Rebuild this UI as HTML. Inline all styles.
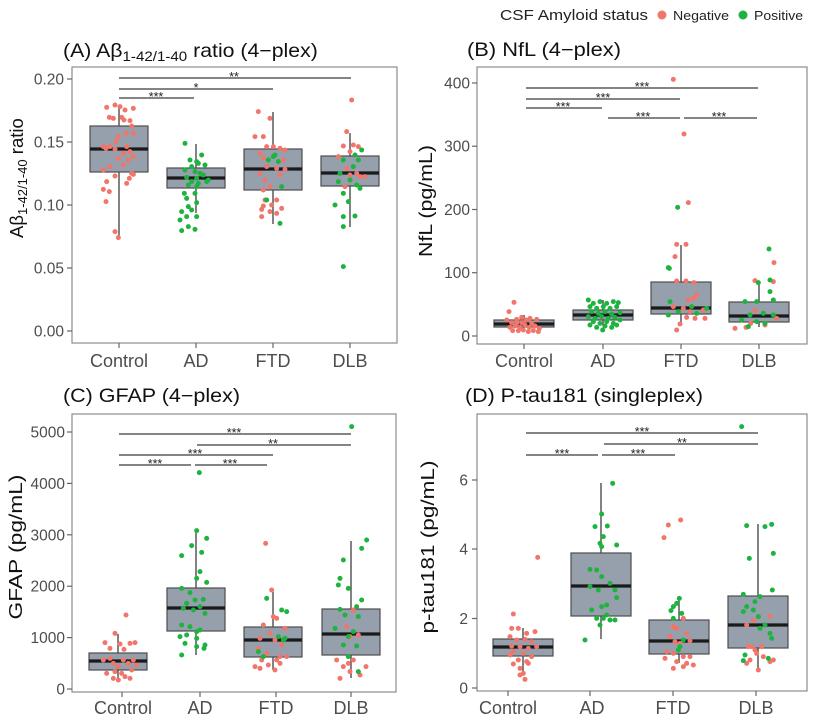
<!DOCTYPE html>
<html><head><meta charset="utf-8"><style>
html,body{margin:0;padding:0;background:#fff;}
svg{display:block;}
text{font-family:"Liberation Sans",Arial,sans-serif;}
.r{fill:#F1756B;}
.g{fill:#1DB33F;}
.bx{fill:#96a0ad;stroke:#4d4d4d;stroke-width:1.2;}
.md{stroke:#1a1a1a;stroke-width:3.2;}
.wk{stroke:#4d4d4d;stroke-width:1.4;}
.fr{fill:none;stroke:#8c8c8c;stroke-width:1.2;}
.tk{stroke:#666;stroke-width:1.2;}
.yl{font-size:15.5px;fill:#4d4d4d;text-anchor:end;}
.xl{font-size:18px;fill:#4d4d4d;text-anchor:middle;}
.sg{stroke:#3a3a3a;stroke-width:1.2;}
.st{font-size:12.5px;fill:#222;text-anchor:middle;}
.ti{font-size:19px;fill:#111;}
.at{font-size:18.5px;fill:#111;}
</style></head><body>
<svg width="829" height="726" viewBox="0 0 829 726" xmlns="http://www.w3.org/2000/svg">
<rect width="829" height="726" fill="#fff"/>

<!-- Legend -->
<text x="500" y="20" font-size="15" fill="#222" textLength="148" lengthAdjust="spacingAndGlyphs">CSF Amyloid status</text>
<circle cx="662" cy="15" r="4.5" class="r"/>
<text x="673" y="20" font-size="13" fill="#222" textLength="56" lengthAdjust="spacingAndGlyphs">Negative</text>
<circle cx="743" cy="15" r="4.5" class="g"/>
<text x="754" y="20" font-size="13" fill="#222" textLength="49" lengthAdjust="spacingAndGlyphs">Positive</text>

<!-- ================= Panel A ================= -->
<g transform="translate(63,57) scale(1.12,1)"><text x="0" y="0" class="ti">(A) Aβ<tspan font-size="13.5" dy="4">1-42/1-40</tspan><tspan dy="-4"> ratio (4−plex)</tspan></text></g>
<g transform="translate(23,238) rotate(-90)"><text x="0" y="0" class="at">Aβ<tspan font-size="13" dy="4">1-42/1-40</tspan><tspan dy="-4"> ratio</tspan></text></g>
<rect x="72" y="67" width="325" height="276" class="fr"/>
<g class="tk">
<line x1="67" y1="331" x2="72" y2="331"/><line x1="67" y1="268" x2="72" y2="268"/><line x1="67" y1="205" x2="72" y2="205"/><line x1="67" y1="142" x2="72" y2="142"/><line x1="67" y1="79" x2="72" y2="79"/>
<line x1="119" y1="343" x2="119" y2="348"/><line x1="196" y1="343" x2="196" y2="348"/><line x1="273" y1="343" x2="273" y2="348"/><line x1="350" y1="343" x2="350" y2="348"/>
</g>
<text x="64" y="336.5" class="yl">0.00</text><text x="64" y="273.5" class="yl">0.05</text><text x="64" y="210.5" class="yl">0.10</text><text x="64" y="147.5" class="yl">0.15</text><text x="64" y="84.5" class="yl">0.20</text>
<text x="119" y="367" class="xl">Control</text><text x="196" y="367" class="xl">AD</text><text x="273" y="367" class="xl">FTD</text><text x="350" y="367" class="xl">DLB</text>
<g class="wk">
<line x1="119" y1="105" x2="119" y2="238"/><line x1="196" y1="144" x2="196" y2="213"/><line x1="273" y1="112" x2="273" y2="224"/><line x1="350" y1="133" x2="350" y2="227"/>
</g>
<rect x="90" y="126" width="58" height="46" class="bx"/><line x1="90" y1="149" x2="148" y2="149" class="md"/>
<rect x="167" y="168" width="58" height="20" class="bx"/><line x1="167" y1="178" x2="225" y2="178" class="md"/>
<rect x="244" y="149" width="58" height="41" class="bx"/><line x1="244" y1="169" x2="302" y2="169" class="md"/>
<rect x="321" y="156" width="58" height="30" class="bx"/><line x1="321" y1="173" x2="379" y2="173" class="md"/>
<line x1="119" y1="78" x2="351" y2="78" class="sg"/><text x="234" y="81" class="st">**</text>
<line x1="119" y1="89" x2="273" y2="89" class="sg"/><text x="196" y="92" class="st">*</text>
<line x1="119" y1="98" x2="194" y2="98" class="sg"/><text x="156" y="101" class="st">***</text>
<g transform="scale(0.33333)">
<g class="r">
<circle cx="320" cy="322" r="7.5"/><circle cx="345" cy="315" r="7.5"/><circle cx="360" cy="320" r="7.5"/><circle cx="375" cy="330" r="7.5"/><circle cx="400" cy="325" r="7.5"/><circle cx="328" cy="352" r="7.5"/><circle cx="340" cy="355" r="7.5"/><circle cx="365" cy="352" r="7.5"/><circle cx="372" cy="360" r="7.5"/><circle cx="390" cy="362" r="7.5"/><circle cx="395" cy="378" r="7.5"/><circle cx="400" cy="400" r="7.5"/><circle cx="378" cy="400" r="7.5"/><circle cx="355" cy="410" r="7.5"/><circle cx="348" cy="425" r="7.5"/><circle cx="310" cy="440" r="7.5"/><circle cx="318" cy="445" r="7.5"/><circle cx="330" cy="440" r="7.5"/><circle cx="345" cy="447" r="7.5"/><circle cx="380" cy="440" r="7.5"/><circle cx="370" cy="460" r="7.5"/><circle cx="390" cy="455" r="7.5"/><circle cx="400" cy="470" r="7.5"/><circle cx="355" cy="475" r="7.5"/><circle cx="385" cy="480" r="7.5"/><circle cx="330" cy="500" r="7.5"/><circle cx="310" cy="510" r="7.5"/><circle cx="370" cy="495" r="7.5"/><circle cx="395" cy="520" r="7.5"/><circle cx="400" cy="523" r="7.5"/><circle cx="388" cy="535" r="7.5"/><circle cx="345" cy="528" r="7.5"/><circle cx="320" cy="545" r="7.5"/><circle cx="380" cy="550" r="7.5"/><circle cx="310" cy="568" r="7.5"/><circle cx="328" cy="575" r="7.5"/><circle cx="318" cy="605" r="7.5"/><circle cx="345" cy="695" r="7.5"/><circle cx="355" cy="713" r="7.5"/>
<circle cx="775" cy="335" r="7.5"/><circle cx="810" cy="355" r="7.5"/><circle cx="790" cy="410" r="7.5"/><circle cx="765" cy="410" r="7.5"/><circle cx="800" cy="440" r="7.5"/><circle cx="820" cy="440" r="7.5"/><circle cx="840" cy="445" r="7.5"/><circle cx="855" cy="450" r="7.5"/><circle cx="780" cy="460" r="7.5"/><circle cx="790" cy="475" r="7.5"/><circle cx="850" cy="480" r="7.5"/><circle cx="800" cy="500" r="7.5"/><circle cx="830" cy="505" r="7.5"/><circle cx="855" cy="508" r="7.5"/><circle cx="780" cy="520" r="7.5"/><circle cx="795" cy="540" r="7.5"/><circle cx="840" cy="525" r="7.5"/><circle cx="810" cy="560" r="7.5"/><circle cx="790" cy="570" r="7.5"/><circle cx="795" cy="600" r="7.5"/><circle cx="830" cy="600" r="7.5"/><circle cx="815" cy="615" r="7.5"/><circle cx="790" cy="618" r="7.5"/><circle cx="785" cy="628" r="7.5"/><circle cx="845" cy="625" r="7.5"/><circle cx="830" cy="640" r="7.5"/><circle cx="785" cy="650" r="7.5"/><circle cx="810" cy="635" r="7.5"/>
<circle cx="1055" cy="300" r="7.5"/><circle cx="1040" cy="395" r="7.5"/><circle cx="1030" cy="438" r="7.5"/><circle cx="1015" cy="470" r="7.5"/><circle cx="1060" cy="435" r="7.5"/><circle cx="1075" cy="440" r="7.5"/><circle cx="1050" cy="455" r="7.5"/><circle cx="1040" cy="505" r="7.5"/><circle cx="1070" cy="520" r="7.5"/><circle cx="1050" cy="525" r="7.5"/><circle cx="1080" cy="530" r="7.5"/><circle cx="1095" cy="530" r="7.5"/><circle cx="1035" cy="560" r="7.5"/>
</g>
<g class="g">
<circle cx="555" cy="430" r="7.5"/><circle cx="605" cy="465" r="7.5"/><circle cx="570" cy="480" r="7.5"/><circle cx="590" cy="485" r="7.5"/><circle cx="595" cy="490" r="7.5"/><circle cx="615" cy="495" r="7.5"/><circle cx="575" cy="500" r="7.5"/><circle cx="555" cy="510" r="7.5"/><circle cx="585" cy="515" r="7.5"/><circle cx="600" cy="520" r="7.5"/><circle cx="610" cy="525" r="7.5"/><circle cx="625" cy="540" r="7.5"/><circle cx="560" cy="532" r="7.5"/><circle cx="575" cy="545" r="7.5"/><circle cx="590" cy="535" r="7.5"/><circle cx="620" cy="545" r="7.5"/><circle cx="595" cy="550" r="7.5"/><circle cx="565" cy="555" r="7.5"/><circle cx="590" cy="560" r="7.5"/><circle cx="553" cy="580" r="7.5"/><circle cx="585" cy="580" r="7.5"/><circle cx="560" cy="595" r="7.5"/><circle cx="590" cy="608" r="7.5"/><circle cx="565" cy="620" r="7.5"/><circle cx="545" cy="635" r="7.5"/><circle cx="575" cy="630" r="7.5"/><circle cx="560" cy="650" r="7.5"/><circle cx="540" cy="660" r="7.5"/><circle cx="590" cy="650" r="7.5"/><circle cx="565" cy="680" r="7.5"/><circle cx="545" cy="692" r="7.5"/><circle cx="585" cy="688" r="7.5"/>
<circle cx="825" cy="465" r="7.5"/><circle cx="835" cy="485" r="7.5"/><circle cx="805" cy="480" r="7.5"/><circle cx="800" cy="600" r="7.5"/><circle cx="845" cy="560" r="7.5"/><circle cx="840" cy="670" r="7.5"/><circle cx="820" cy="470" r="7.5"/>
<circle cx="1030" cy="480" r="7.5"/><circle cx="1065" cy="465" r="7.5"/><circle cx="1085" cy="450" r="7.5"/><circle cx="1075" cy="480" r="7.5"/><circle cx="1060" cy="500" r="7.5"/><circle cx="1020" cy="520" r="7.5"/><circle cx="1015" cy="545" r="7.5"/><circle cx="1050" cy="540" r="7.5"/><circle cx="1070" cy="555" r="7.5"/><circle cx="1080" cy="565" r="7.5"/><circle cx="1030" cy="580" r="7.5"/><circle cx="1005" cy="615" r="7.5"/><circle cx="1045" cy="605" r="7.5"/><circle cx="1030" cy="650" r="7.5"/><circle cx="1065" cy="648" r="7.5"/><circle cx="1030" cy="680" r="7.5"/><circle cx="1030" cy="800" r="7.5"/>
</g>
</g>

<!-- ================= Panel B ================= -->
<text x="467" y="56" class="ti" textLength="154" lengthAdjust="spacingAndGlyphs">(B) NfL (4−plex)</text>
<text transform="translate(432,201) rotate(-90)" x="0" y="0" class="at" text-anchor="middle" textLength="112" lengthAdjust="spacingAndGlyphs">NfL (pg/mL)</text>
<rect x="477" y="67" width="330" height="277" class="fr"/>
<g class="tk">
<line x1="472" y1="336" x2="477" y2="336"/><line x1="472" y1="272.7" x2="477" y2="272.7"/><line x1="472" y1="209.5" x2="477" y2="209.5"/><line x1="472" y1="146.2" x2="477" y2="146.2"/><line x1="472" y1="83" x2="477" y2="83"/>
<line x1="524" y1="344" x2="524" y2="349"/><line x1="603" y1="344" x2="603" y2="349"/><line x1="681" y1="344" x2="681" y2="349"/><line x1="759" y1="344" x2="759" y2="349"/>
</g>
<text x="470" y="341.5" class="yl">0</text><text x="470" y="278" class="yl">100</text><text x="470" y="215" class="yl">200</text><text x="470" y="151.5" class="yl">300</text><text x="470" y="88.5" class="yl">400</text>
<text x="524" y="367" class="xl">Control</text><text x="603" y="367" class="xl">AD</text><text x="681" y="367" class="xl">FTD</text><text x="759" y="367" class="xl">DLB</text>
<g class="wk">
<line x1="524" y1="315" x2="524" y2="332"/><line x1="603" y1="300" x2="603" y2="326"/><line x1="681" y1="245" x2="681" y2="325"/><line x1="759" y1="282" x2="759" y2="327"/>
</g>
<rect x="494" y="320" width="60" height="7" class="bx"/><line x1="494" y1="324" x2="554" y2="324" class="md"/>
<rect x="573" y="310" width="60" height="10" class="bx"/><line x1="573" y1="315" x2="633" y2="315" class="md"/>
<rect x="651" y="282" width="60" height="32" class="bx"/><line x1="651" y1="308" x2="711" y2="308" class="md"/>
<rect x="729" y="302" width="60" height="20" class="bx"/><line x1="729" y1="316" x2="789" y2="316" class="md"/>
<line x1="526" y1="88" x2="758" y2="88" class="sg"/><text x="642" y="91" class="st">***</text>
<line x1="526" y1="99" x2="680" y2="99" class="sg"/><text x="603" y="102" class="st">***</text>
<line x1="526" y1="108" x2="602" y2="108" class="sg"/><text x="563" y="111" class="st">***</text>
<line x1="608" y1="118" x2="680" y2="118" class="sg"/><text x="643" y="121" class="st">***</text>
<line x1="684" y1="118" x2="757" y2="118" class="sg"/><text x="719" y="121" class="st">***</text>
<g transform="translate(410,0) scale(0.33333)">
<g class="r"><circle cx="790" cy="238" r="7.5"/><circle cx="822" cy="402" r="7.5"/><circle cx="835" cy="608" r="7.5"/><circle cx="800" cy="733" r="7.5"/><circle cx="828" cy="733" r="7.5"/><circle cx="795" cy="770" r="7.5"/><circle cx="800" cy="843" r="7.5"/><circle cx="828" cy="843" r="7.5"/><circle cx="852" cy="848" r="7.5"/></g>
<g class="g"><circle cx="803" cy="622" r="7.5"/><circle cx="775" cy="803" r="7.5"/></g>
</g>
<g transform="translate(440,240) scale(0.33333)">
<g class="r">
<circle cx="222" cy="187" r="7.5"/><circle cx="207" cy="215" r="7.5"/><circle cx="200" cy="240" r="7.5"/><circle cx="215" cy="248" r="7.5"/><circle cx="230" cy="238" r="7.5"/><circle cx="245" cy="232" r="7.5"/><circle cx="258" cy="240" r="7.5"/><circle cx="270" cy="235" r="7.5"/><circle cx="290" cy="238" r="7.5"/><circle cx="210" cy="262" r="7.5"/><circle cx="225" cy="258" r="7.5"/><circle cx="240" cy="262" r="7.5"/><circle cx="255" cy="255" r="7.5"/><circle cx="268" cy="262" r="7.5"/><circle cx="285" cy="258" r="7.5"/><circle cx="298" cy="265" r="7.5"/><circle cx="218" cy="272" r="7.5"/><circle cx="235" cy="272" r="7.5"/><circle cx="250" cy="270" r="7.5"/><circle cx="265" cy="275" r="7.5"/><circle cx="280" cy="272" r="7.5"/><circle cx="295" cy="275" r="7.5"/><circle cx="245" cy="248" r="7.5"/><circle cx="275" cy="250" r="7.5"/><circle cx="230" cy="250" r="7.5"/>
<circle cx="720" cy="252" r="7.5"/><circle cx="740" cy="232" r="7.5"/><circle cx="765" cy="235" r="7.5"/><circle cx="700" cy="200" r="7.5"/><circle cx="730" cy="205" r="7.5"/><circle cx="760" cy="175" r="7.5"/><circle cx="745" cy="180" r="7.5"/><circle cx="770" cy="165" r="7.5"/><circle cx="790" cy="210" r="7.5"/><circle cx="795" cy="235" r="7.5"/><circle cx="710" cy="270" r="7.5"/><circle cx="750" cy="215" r="7.5"/>
<circle cx="1002" cy="68" r="7.5"/><circle cx="945" cy="122" r="7.5"/><circle cx="1000" cy="125" r="7.5"/><circle cx="918" cy="262" r="7.5"/><circle cx="932" cy="250" r="7.5"/><circle cx="975" cy="255" r="7.5"/><circle cx="945" cy="212" r="7.5"/><circle cx="885" cy="265" r="7.5"/><circle cx="1010" cy="235" r="7.5"/>
</g>
<g class="g">
<circle cx="445" cy="180" r="7.5"/><circle cx="460" cy="190" r="7.5"/><circle cx="480" cy="185" r="7.5"/><circle cx="500" cy="190" r="7.5"/><circle cx="520" cy="185" r="7.5"/><circle cx="535" cy="188" r="7.5"/><circle cx="450" cy="200" r="7.5"/><circle cx="470" cy="205" r="7.5"/><circle cx="490" cy="200" r="7.5"/><circle cx="510" cy="205" r="7.5"/><circle cx="530" cy="200" r="7.5"/><circle cx="455" cy="215" r="7.5"/><circle cx="475" cy="220" r="7.5"/><circle cx="495" cy="215" r="7.5"/><circle cx="515" cy="222" r="7.5"/><circle cx="540" cy="218" r="7.5"/><circle cx="445" cy="230" r="7.5"/><circle cx="465" cy="235" r="7.5"/><circle cx="485" cy="230" r="7.5"/><circle cx="505" cy="235" r="7.5"/><circle cx="525" cy="232" r="7.5"/><circle cx="460" cy="245" r="7.5"/><circle cx="480" cy="250" r="7.5"/><circle cx="500" cy="245" r="7.5"/><circle cx="520" cy="250" r="7.5"/><circle cx="540" cy="240" r="7.5"/><circle cx="470" cy="262" r="7.5"/><circle cx="495" cy="258" r="7.5"/><circle cx="515" cy="262" r="7.5"/><circle cx="450" cy="255" r="7.5"/><circle cx="530" cy="255" r="7.5"/><circle cx="488" cy="270" r="7.5"/>
<circle cx="688" cy="85" r="7.5"/><circle cx="690" cy="185" r="7.5"/><circle cx="685" cy="225" r="7.5"/><circle cx="715" cy="215" r="7.5"/><circle cx="800" cy="205" r="7.5"/><circle cx="770" cy="220" r="7.5"/><circle cx="755" cy="200" r="7.5"/>
<circle cx="987" cy="27" r="7.5"/><circle cx="990" cy="120" r="7.5"/><circle cx="955" cy="128" r="7.5"/><circle cx="990" cy="155" r="7.5"/><circle cx="915" cy="185" r="7.5"/><circle cx="1000" cy="180" r="7.5"/><circle cx="950" cy="185" r="7.5"/><circle cx="930" cy="225" r="7.5"/><circle cx="970" cy="220" r="7.5"/><circle cx="1000" cy="225" r="7.5"/><circle cx="905" cy="240" r="7.5"/><circle cx="950" cy="245" r="7.5"/><circle cx="925" cy="260" r="7.5"/><circle cx="975" cy="250" r="7.5"/>
</g>
</g>

<!-- ================= Panel C ================= -->
<text x="63" y="402" class="ti" textLength="177" lengthAdjust="spacingAndGlyphs">(C) GFAP (4−plex)</text>
<text transform="translate(22,547) rotate(-90)" x="0" y="0" class="at" text-anchor="middle" textLength="145" lengthAdjust="spacingAndGlyphs">GFAP (pg/mL)</text>
<rect x="72" y="414" width="324" height="278" class="fr"/>
<g class="tk">
<line x1="67" y1="689" x2="72" y2="689"/><line x1="67" y1="637.6" x2="72" y2="637.6"/><line x1="67" y1="586.2" x2="72" y2="586.2"/><line x1="67" y1="534.8" x2="72" y2="534.8"/><line x1="67" y1="483.4" x2="72" y2="483.4"/><line x1="67" y1="432" x2="72" y2="432"/>
<line x1="122" y1="692" x2="122" y2="697"/><line x1="200" y1="692" x2="200" y2="697"/><line x1="276" y1="692" x2="276" y2="697"/><line x1="351" y1="692" x2="351" y2="697"/>
</g>
<text x="65" y="694.5" class="yl">0</text><text x="65" y="643" class="yl">1000</text><text x="65" y="591.7" class="yl">2000</text><text x="65" y="540.3" class="yl">3000</text><text x="65" y="489" class="yl">4000</text><text x="65" y="437.5" class="yl">5000</text>
<text x="123" y="714" class="xl">Control</text><text x="200" y="714" class="xl">AD</text><text x="276" y="714" class="xl">FTD</text><text x="351" y="714" class="xl">DLB</text>
<g class="wk">
<line x1="118" y1="634" x2="118" y2="678"/><line x1="196" y1="532" x2="196" y2="655"/><line x1="273" y1="592" x2="273" y2="670"/><line x1="351" y1="541" x2="351" y2="678"/>
</g>
<rect x="89" y="653" width="58" height="17" class="bx"/><line x1="89" y1="661" x2="147" y2="661" class="md"/>
<rect x="167" y="588" width="58" height="43" class="bx"/><line x1="167" y1="608" x2="225" y2="608" class="md"/>
<rect x="244" y="627" width="58" height="30" class="bx"/><line x1="244" y1="640" x2="302" y2="640" class="md"/>
<rect x="322" y="609" width="58" height="46" class="bx"/><line x1="322" y1="634" x2="380" y2="634" class="md"/>
<line x1="119" y1="434" x2="351" y2="434" class="sg"/><text x="234" y="437" class="st">***</text>
<line x1="197" y1="445" x2="351" y2="445" class="sg"/><text x="273" y="448" class="st">**</text>
<line x1="119" y1="455" x2="273" y2="455" class="sg"/><text x="195" y="458" class="st">***</text>
<line x1="119" y1="465" x2="191" y2="465" class="sg"/><text x="155" y="468" class="st">***</text>
<line x1="195" y1="465" x2="267" y2="465" class="sg"/><text x="230" y="468" class="st">***</text>
<g transform="translate(0,370) scale(0.33333)">
<g class="r">
<circle cx="378" cy="735" r="7.5"/><circle cx="345" cy="790" r="7.5"/><circle cx="315" cy="818" r="7.5"/><circle cx="330" cy="835" r="7.5"/><circle cx="360" cy="822" r="7.5"/><circle cx="372" cy="838" r="7.5"/><circle cx="405" cy="818" r="7.5"/><circle cx="390" cy="820" r="7.5"/><circle cx="310" cy="870" r="7.5"/><circle cx="340" cy="880" r="7.5"/><circle cx="355" cy="890" r="7.5"/><circle cx="385" cy="880" r="7.5"/><circle cx="400" cy="870" r="7.5"/><circle cx="345" cy="905" r="7.5"/><circle cx="365" cy="910" r="7.5"/><circle cx="395" cy="900" r="7.5"/><circle cx="320" cy="910" r="7.5"/><circle cx="340" cy="925" r="7.5"/><circle cx="375" cy="920" r="7.5"/><circle cx="355" cy="930" r="7.5"/><circle cx="390" cy="925" r="7.5"/><circle cx="330" cy="865" r="7.5"/><circle cx="370" cy="870" r="7.5"/><circle cx="410" cy="885" r="7.5"/>
<circle cx="797" cy="520" r="7.5"/><circle cx="815" cy="660" r="7.5"/><circle cx="820" cy="740" r="7.5"/><circle cx="830" cy="745" r="7.5"/><circle cx="790" cy="765" r="7.5"/><circle cx="855" cy="775" r="7.5"/><circle cx="810" cy="790" r="7.5"/><circle cx="780" cy="805" r="7.5"/><circle cx="825" cy="810" r="7.5"/><circle cx="845" cy="825" r="7.5"/><circle cx="775" cy="835" r="7.5"/><circle cx="800" cy="850" r="7.5"/><circle cx="840" cy="860" r="7.5"/><circle cx="860" cy="860" r="7.5"/><circle cx="785" cy="870" r="7.5"/><circle cx="830" cy="870" r="7.5"/><circle cx="805" cy="885" r="7.5"/><circle cx="765" cy="890" r="7.5"/><circle cx="780" cy="895" r="7.5"/><circle cx="825" cy="900" r="7.5"/><circle cx="840" cy="880" r="7.5"/>
<circle cx="1060" cy="720" r="7.5"/><circle cx="1040" cy="770" r="7.5"/><circle cx="1050" cy="800" r="7.5"/><circle cx="1075" cy="795" r="7.5"/><circle cx="1010" cy="870" r="7.5"/><circle cx="1045" cy="880" r="7.5"/><circle cx="1060" cy="870" r="7.5"/><circle cx="1030" cy="890" r="7.5"/><circle cx="1050" cy="905" r="7.5"/><circle cx="1020" cy="925" r="7.5"/><circle cx="1080" cy="915" r="7.5"/><circle cx="1098" cy="890" r="7.5"/>
</g>
<g class="g">
<circle cx="598" cy="308" r="7.5"/><circle cx="590" cy="482" r="7.5"/><circle cx="620" cy="505" r="7.5"/><circle cx="545" cy="557" r="7.5"/><circle cx="575" cy="527" r="7.5"/><circle cx="605" cy="547" r="7.5"/><circle cx="600" cy="605" r="7.5"/><circle cx="590" cy="625" r="7.5"/><circle cx="620" cy="637" r="7.5"/><circle cx="545" cy="655" r="7.5"/><circle cx="570" cy="668" r="7.5"/><circle cx="585" cy="690" r="7.5"/><circle cx="610" cy="688" r="7.5"/><circle cx="560" cy="700" r="7.5"/><circle cx="600" cy="710" r="7.5"/><circle cx="580" cy="720" r="7.5"/><circle cx="550" cy="715" r="7.5"/><circle cx="615" cy="730" r="7.5"/><circle cx="545" cy="765" r="7.5"/><circle cx="570" cy="770" r="7.5"/><circle cx="590" cy="785" r="7.5"/><circle cx="560" cy="795" r="7.5"/><circle cx="540" cy="800" r="7.5"/><circle cx="600" cy="780" r="7.5"/><circle cx="555" cy="820" r="7.5"/><circle cx="590" cy="805" r="7.5"/><circle cx="615" cy="825" r="7.5"/><circle cx="545" cy="855" r="7.5"/><circle cx="590" cy="830" r="7.5"/><circle cx="612" cy="835" r="7.5"/>
<circle cx="800" cy="685" r="7.5"/><circle cx="845" cy="720" r="7.5"/><circle cx="860" cy="725" r="7.5"/><circle cx="835" cy="800" r="7.5"/><circle cx="855" cy="805" r="7.5"/><circle cx="775" cy="845" r="7.5"/><circle cx="790" cy="860" r="7.5"/><circle cx="850" cy="810" r="7.5"/>
<circle cx="1055" cy="170" r="7.5"/><circle cx="1100" cy="510" r="7.5"/><circle cx="1085" cy="535" r="7.5"/><circle cx="1030" cy="570" r="7.5"/><circle cx="1020" cy="625" r="7.5"/><circle cx="1015" cy="645" r="7.5"/><circle cx="1045" cy="655" r="7.5"/><circle cx="1085" cy="690" r="7.5"/><circle cx="1070" cy="710" r="7.5"/><circle cx="1020" cy="718" r="7.5"/><circle cx="1035" cy="735" r="7.5"/><circle cx="1075" cy="740" r="7.5"/><circle cx="1005" cy="775" r="7.5"/><circle cx="1060" cy="785" r="7.5"/><circle cx="1045" cy="800" r="7.5"/><circle cx="1030" cy="825" r="7.5"/><circle cx="1070" cy="828" r="7.5"/><circle cx="1045" cy="860" r="7.5"/><circle cx="1075" cy="905" r="7.5"/>
</g>
</g>

<!-- ================= Panel D ================= -->
<text x="465" y="402" class="ti" textLength="238" lengthAdjust="spacingAndGlyphs">(D)  P-tau181 (singleplex)</text>
<text transform="translate(434,547) rotate(-90)" x="0" y="0" class="at" text-anchor="middle" textLength="173" lengthAdjust="spacingAndGlyphs">p-tau181 (pg/mL)</text>
<rect x="477" y="414" width="330" height="277" class="fr"/>
<g class="tk">
<line x1="472" y1="688" x2="477" y2="688"/><line x1="472" y1="618.5" x2="477" y2="618.5"/><line x1="472" y1="549" x2="477" y2="549"/><line x1="472" y1="480" x2="477" y2="480"/>
<line x1="508" y1="691" x2="508" y2="696"/><line x1="590" y1="691" x2="590" y2="696"/><line x1="673" y1="691" x2="673" y2="696"/><line x1="756" y1="691" x2="756" y2="696"/>
</g>
<text x="468" y="693.5" class="yl">0</text><text x="468" y="624" class="yl">2</text><text x="468" y="554.5" class="yl">4</text><text x="468" y="485.5" class="yl">6</text>
<text x="508" y="714" class="xl">Control</text><text x="592" y="714" class="xl">AD</text><text x="673" y="714" class="xl">FTD</text><text x="756" y="714" class="xl">DLB</text>
<g class="wk">
<line x1="523" y1="628" x2="523" y2="672"/><line x1="601" y1="483" x2="601" y2="639"/><line x1="679" y1="597" x2="679" y2="663"/><line x1="758" y1="524" x2="758" y2="669"/>
</g>
<rect x="493" y="639" width="60" height="17" class="bx"/><line x1="493" y1="647" x2="553" y2="647" class="md"/>
<rect x="571" y="553" width="60" height="63" class="bx"/><line x1="571" y1="586" x2="631" y2="586" class="md"/>
<rect x="649" y="620" width="60" height="34" class="bx"/><line x1="649" y1="641" x2="709" y2="641" class="md"/>
<rect x="728" y="596" width="60" height="52" class="bx"/><line x1="728" y1="625" x2="788" y2="625" class="md"/>
<line x1="526" y1="433" x2="758" y2="433" class="sg"/><text x="642" y="436" class="st">***</text>
<line x1="604" y1="444" x2="758" y2="444" class="sg"/><text x="682" y="447" class="st">**</text>
<line x1="526" y1="455" x2="598" y2="455" class="sg"/><text x="562" y="458" class="st">***</text>
<line x1="602" y1="455" x2="675" y2="455" class="sg"/><text x="638" y="458" class="st">***</text>
<g transform="translate(410,370) scale(0.33333)">
<g class="r">
<circle cx="383" cy="562" r="7.5"/><circle cx="310" cy="732" r="7.5"/><circle cx="305" cy="775" r="7.5"/><circle cx="325" cy="775" r="7.5"/><circle cx="350" cy="790" r="7.5"/><circle cx="375" cy="785" r="7.5"/><circle cx="300" cy="800" r="7.5"/><circle cx="320" cy="810" r="7.5"/><circle cx="345" cy="808" r="7.5"/><circle cx="365" cy="815" r="7.5"/><circle cx="305" cy="828" r="7.5"/><circle cx="330" cy="830" r="7.5"/><circle cx="355" cy="835" r="7.5"/><circle cx="380" cy="830" r="7.5"/><circle cx="310" cy="845" r="7.5"/><circle cx="340" cy="850" r="7.5"/><circle cx="365" cy="860" r="7.5"/><circle cx="300" cy="855" r="7.5"/><circle cx="325" cy="870" r="7.5"/><circle cx="350" cy="875" r="7.5"/><circle cx="310" cy="882" r="7.5"/><circle cx="330" cy="895" r="7.5"/><circle cx="355" cy="880" r="7.5"/><circle cx="340" cy="910" r="7.5"/><circle cx="345" cy="928" r="7.5"/><circle cx="330" cy="915" r="7.5"/>
<circle cx="775" cy="465" r="7.5"/><circle cx="812" cy="450" r="7.5"/><circle cx="762" cy="503" r="7.5"/><circle cx="820" cy="745" r="7.5"/><circle cx="790" cy="770" r="7.5"/><circle cx="800" cy="775" r="7.5"/><circle cx="830" cy="790" r="7.5"/><circle cx="780" cy="800" r="7.5"/><circle cx="795" cy="815" r="7.5"/><circle cx="810" cy="820" r="7.5"/><circle cx="840" cy="812" r="7.5"/><circle cx="770" cy="845" r="7.5"/><circle cx="790" cy="850" r="7.5"/><circle cx="820" cy="860" r="7.5"/><circle cx="840" cy="860" r="7.5"/><circle cx="765" cy="865" r="7.5"/><circle cx="800" cy="875" r="7.5"/><circle cx="830" cy="880" r="7.5"/><circle cx="850" cy="885" r="7.5"/><circle cx="790" cy="895" r="7.5"/><circle cx="820" cy="890" r="7.5"/>
<circle cx="1030" cy="752" r="7.5"/><circle cx="1010" cy="765" r="7.5"/><circle cx="1080" cy="740" r="7.5"/><circle cx="1015" cy="830" r="7.5"/><circle cx="1035" cy="840" r="7.5"/><circle cx="1055" cy="830" r="7.5"/><circle cx="1040" cy="850" r="7.5"/><circle cx="1060" cy="860" r="7.5"/><circle cx="1020" cy="870" r="7.5"/><circle cx="1010" cy="880" r="7.5"/><circle cx="1080" cy="875" r="7.5"/><circle cx="1045" cy="900" r="7.5"/><circle cx="1090" cy="870" r="7.5"/><circle cx="1025" cy="830" r="7.5"/>
</g>
<g class="g">
<circle cx="608" cy="340" r="7.5"/><circle cx="575" cy="432" r="7.5"/><circle cx="555" cy="470" r="7.5"/><circle cx="592" cy="468" r="7.5"/><circle cx="580" cy="500" r="7.5"/><circle cx="570" cy="520" r="7.5"/><circle cx="620" cy="525" r="7.5"/><circle cx="575" cy="530" r="7.5"/><circle cx="540" cy="598" r="7.5"/><circle cx="560" cy="600" r="7.5"/><circle cx="575" cy="620" r="7.5"/><circle cx="600" cy="640" r="7.5"/><circle cx="540" cy="650" r="7.5"/><circle cx="565" cy="660" r="7.5"/><circle cx="615" cy="660" r="7.5"/><circle cx="620" cy="683" r="7.5"/><circle cx="545" cy="720" r="7.5"/><circle cx="575" cy="710" r="7.5"/><circle cx="590" cy="735" r="7.5"/><circle cx="560" cy="745" r="7.5"/><circle cx="580" cy="745" r="7.5"/><circle cx="600" cy="750" r="7.5"/><circle cx="615" cy="750" r="7.5"/><circle cx="570" cy="765" r="7.5"/><circle cx="525" cy="810" r="7.5"/><circle cx="590" cy="705" r="7.5"/>
<circle cx="808" cy="685" r="7.5"/><circle cx="800" cy="700" r="7.5"/><circle cx="790" cy="710" r="7.5"/><circle cx="783" cy="722" r="7.5"/><circle cx="790" cy="745" r="7.5"/><circle cx="815" cy="730" r="7.5"/><circle cx="810" cy="830" r="7.5"/><circle cx="805" cy="840" r="7.5"/><circle cx="820" cy="810" r="7.5"/>
<circle cx="1010" cy="467" r="7.5"/><circle cx="1065" cy="470" r="7.5"/><circle cx="1085" cy="463" r="7.5"/><circle cx="1090" cy="550" r="7.5"/><circle cx="1018" cy="565" r="7.5"/><circle cx="1087" cy="660" r="7.5"/><circle cx="1000" cy="673" r="7.5"/><circle cx="1050" cy="680" r="7.5"/><circle cx="1035" cy="695" r="7.5"/><circle cx="1010" cy="710" r="7.5"/><circle cx="1000" cy="725" r="7.5"/><circle cx="1030" cy="720" r="7.5"/><circle cx="1045" cy="740" r="7.5"/><circle cx="1065" cy="765" r="7.5"/><circle cx="1050" cy="775" r="7.5"/><circle cx="1080" cy="790" r="7.5"/><circle cx="1085" cy="805" r="7.5"/><circle cx="1005" cy="855" r="7.5"/><circle cx="1075" cy="865" r="7.5"/><circle cx="1000" cy="872" r="7.5"/>
<circle cx="995" cy="170" r="7.5"/>
</g>
</g>
</svg>
</body></html>
